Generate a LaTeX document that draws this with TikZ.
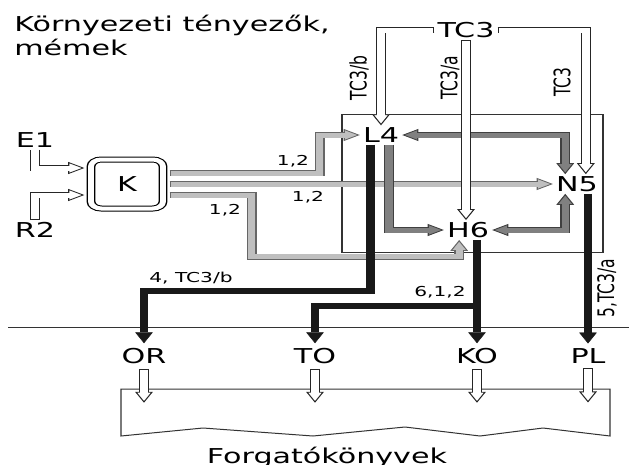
\documentclass[tikz,border=0pt]{standalone}
\usepackage{fontspec}
\setmainfont{DejaVu Sans}
\usetikzlibrary{arrows.meta}

\begin{document}
\begin{tikzpicture}[
  x=0.68pt, y=-1pt,
  font=\fontsize{20.5}{24}\selectfont,
  txt/.style={inner sep=2pt},
  bot/.style={inner sep=2pt, outer sep=3pt},
  lbl/.style={font=\fontsize{13.7}{15}\selectfont, inner sep=0pt},
  vlbl/.style={font=\fontsize{15.5}{17}\selectfont, rotate=90, inner sep=0pt},
  band/.style 2 args={line width=6.6pt, draw=#1,
    -{Triangle[length=11pt, width=12pt, fill=#2, line width=0.8pt]},
    postaction={draw=#2, -, line width=5pt, shorten >=9.6pt, shorten <=0.8pt}},
  bandboth/.style 2 args={line width=6.6pt, draw=#1,
    {Triangle[length=11pt, width=12pt, fill=#2, line width=0.8pt]}-{Triangle[length=11pt, width=12pt, fill=#2, line width=0.8pt]},
    postaction={draw=#2, -, line width=5pt, shorten >=9.6pt, shorten <=9.6pt}},
  hollow/.style={band={black!85}{white}},
  light/.style={band={black!60}{black!25}},
  dark/.style={band={black!75}{black!50}},
  darkboth/.style={bandboth={black!75}{black!50}},
  heavy/.style={line width=6pt, draw=black!90, -{Triangle[length=11pt, width=12pt, line width=0.4pt]}},
  thin/.style={line width=1pt, draw=black!80}
]
\useasboundingbox (0pt,0pt) rectangle (629pt,-464pt);
\begin{scope}[transform canvas={xscale=1.4706}]
% frame, base line and the document shape
\draw[thin] (342,114) rectangle (603,252);
\draw[line width=0.8pt, black!80] (8,327) -- (629,327);
\draw[thin] (121,389) -- (610,389) -- (610,436) -- (543,428) -- (480,436)
  -- (405,427) -- (313,436) -- (203,428) -- (121,436) -- cycle;

% nodes
\node[anchor=base west, align=left, inner sep=0pt] (title) at (14,55) {Környezeti tényezők,\\mémek};
\node[txt] (tc3) at (466,30) {TC3};
\node[txt] (l4) at (381,135) {L4};
\node[txt] (n5) at (577,184) {N5};
\node[txt] (h6) at (468,230) {H6};
\node[txt] (e1) at (35,140) {E1};
\node[txt] (r2) at (35,230) {R2};
\node[draw, double, double distance=4pt, line width=1pt, rounded corners=7pt,
  minimum width=49pt, minimum height=49pt, outer sep=4.5pt] (k) at (127,184) {K};
\node[bot] (OR) at (144,356) {OR};
\node[bot] (TO) at (315,356) {TO};
\node[bot] (KO) at (477,356) {KO};
\node[bot] (PL) at (588,356) {PL};
\node[anchor=base] (forg) at (327,463) {Forgatókönyvek};

% inputs of K
\draw[hollow] (e1.south) |- ([yshift=16pt]k.west);
\draw[hollow] (r2.north) |- ([yshift=-11pt]k.west);

% outputs of K
\draw[light] ([yshift=11pt]k.east) -- ++(150,0) |- (l4.west);
\draw[light] (k.east) -- (n5.west);
\draw[light] ([yshift=-11pt]k.east) -- ++(82,0) |- ([xshift=-6pt,yshift=-17pt]h6.south) -- ([xshift=-6pt]h6.south);
\node[lbl] (a12) at (293,161) {1,2};
\node[lbl] (b12) at (308,197) {1,2};
\node[lbl] (c12) at (225,210) {1,2};

% inside the frame
\draw[darkboth] (l4.east) -| ([xshift=-8pt]n5.north);
\draw[dark] ([xshift=5.5pt]l4.south) |- (h6.west);
\draw[darkboth] (h6.east) -| ([xshift=-8pt]n5.south);

% down to the scripts
\draw[heavy] ([xshift=-7pt]l4.south) -- ++(0,146) -| (OR.north);
\draw[heavy] (KO.north |- h6.south) -- (KO.north);
\draw[heavy] (KO.north |- h6.south) ++(0,66) -| (TO.north);
\draw[heavy] (PL.north |- n5.south) -- (PL.north);
\node[lbl] (l4tc) at (191,278) {4, TC3/b};
\node[lbl] (l612) at (440,292) {6,1,2};
\node[vlbl] (l5tc) at (607,288) {5,TC3/a};

% TC3 from above
\draw[hollow] (tc3.west) -| (l4.north);
\draw[hollow] (tc3.south) -- (tc3.south |- h6.north);
\draw[hollow] (tc3.east) -| ([xshift=6pt]n5.north);
\node[vlbl] (vb) at (359,78) {TC3/b};
\node[vlbl] (va) at (450,78) {TC3/a};
\node[vlbl] (vc) at (562,82) {TC3};

% into the scripts
\foreach \s in {OR,TO,KO,PL}
  \draw[hollow] (\s.south) -- ++(0,34);
\end{scope}
\end{tikzpicture}
\end{document}
